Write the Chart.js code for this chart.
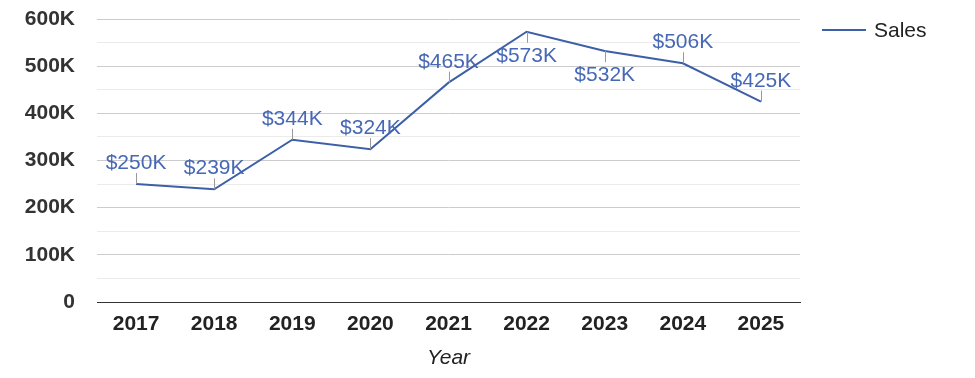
<!DOCTYPE html>
<html>
<head>
<meta charset="utf-8">
<script src="https://cdn.jsdelivr.net/npm/chart.js@4/dist/chart.umd.min.js"></script>
<style>
html,body{margin:0;padding:0;background:#fff;}
#wrap{width:975px;height:378px;}
</style>
</head>
<body>
<div id="wrap"><canvas id="c" width="975" height="378"></canvas></div>
<script>
const years = ['2017','2018','2019','2020','2021','2022','2023','2024','2025'];
const sales = [250000, 239000, 344000, 324000, 465000, 573000, 532000, 506000, 425000];
const seriesName = 'Sales';
const axisTitle = 'Year';

const FONT = 'Arial, "Liberation Sans", Helvetica, sans-serif';
const LINE = '#3c5fa8';
const LABEL = '#4668b5';

const annot = {
  id: 'annot',
  afterDatasetsDraw(chart, args, opts) {
    const ctx = chart.ctx;
    const meta = chart.getDatasetMeta(0);
    ctx.save();
    ctx.font = '21px ' + FONT;
    ctx.textAlign = 'center';
    ctx.textBaseline = 'alphabetic';
    meta.data.forEach((pt, i) => {
      const v = chart.data.datasets[0].data[i];
      const txt = '$' + Math.round(v / 1000) + 'K';
      const below = opts.below.includes(i);
      ctx.strokeStyle = '#999';
      ctx.lineWidth = 1;
      ctx.beginPath();
      const x = Math.round(pt.x) + 0.5;
      if (below) { ctx.moveTo(x, pt.y); ctx.lineTo(x, pt.y + 11); }
      else { ctx.moveTo(x, pt.y); ctx.lineTo(x, pt.y - 11); }
      ctx.stroke();
      ctx.fillStyle = LABEL;
      ctx.fillText(txt, pt.x, below ? pt.y + 30 : pt.y - 15);
    });
    ctx.restore();
  }
};

const legendPlugin = {
  id: 'legendRight',
  afterDraw(chart) {
    const ctx = chart.ctx;
    ctx.save();
    ctx.strokeStyle = LINE;
    ctx.lineWidth = 2;
    ctx.beginPath();
    ctx.moveTo(822, 30);
    ctx.lineTo(866, 30);
    ctx.stroke();
    ctx.fillStyle = '#222';
    ctx.font = '21px ' + FONT;
    ctx.textBaseline = 'middle';
    ctx.textAlign = 'left';
    ctx.fillText(chart.data.datasets[0].label, 874, 31);
    ctx.restore();
  }
};

new Chart(document.getElementById('c'), {
  type: 'line',
  data: {
    labels: years,
    datasets: [{
      label: seriesName,
      data: sales,
      borderColor: LINE,
      backgroundColor: LINE,
      borderWidth: 2,
      pointRadius: 0,
      tension: 0
    }]
  },
  options: {
    responsive: false,
    animation: false,
    devicePixelRatio: 1,
    layout: { padding: { top: 19, right: 175, left: 0, bottom: 0 } },
    plugins: {
      legend: { display: false },
      tooltip: { enabled: false },
      annot: { below: [5, 6] }
    },
    scales: {
      x: {
        offset: true,
        grid: { display: false, drawTicks: false },
        border: { display: true, color: '#333', width: 1 },
        ticks: { color: '#222', font: { family: FONT, size: 21, weight: 'bold' }, padding: 10, maxRotation: 0 },
        title: { display: true, text: axisTitle, color: '#222', font: { family: FONT, size: 21, style: 'italic' }, padding: { top: 6, bottom: 7 } },
        afterFit(s) { s.height = 76; s.paddingTop = 0; s.paddingBottom = 0; }
      },
      y: {
        min: 0, max: 600000,
        ticks: {
          stepSize: 50000,
          autoSkip: false,
          color: '#333',
          padding: 22,
          font: { family: FONT, size: 21, weight: 'bold' },
          callback(v) { if (v % 100000 !== 0) return ''; return v === 0 ? '0' : (v / 1000) + 'K'; }
        },
        grid: {
          drawTicks: false,
          color(c) { const v = c.tick.value; if (v === 0) return '#333'; return v % 100000 === 0 ? '#cccccc' : '#ebebeb'; }
        },
        border: { display: false },
        afterFit(s) { s.width = 97; s.paddingTop = 0; s.paddingBottom = 0; }
      }
    }
  },
  plugins: [annot, legendPlugin]
});
</script>
</body>
</html>
